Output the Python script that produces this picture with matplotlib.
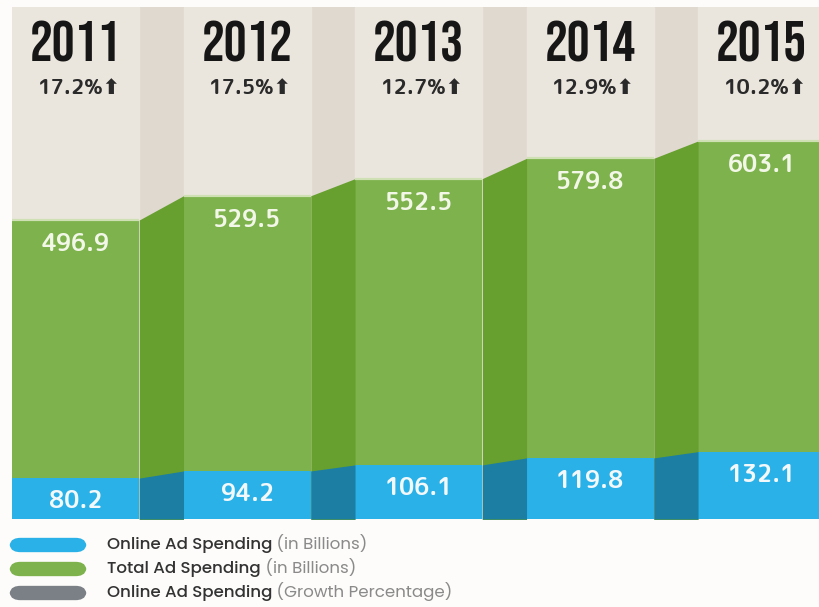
import numpy as np
import matplotlib
matplotlib.use("Agg")
import matplotlib.pyplot as plt
import matplotlib.patches as mpatches
import matplotlib.transforms as mtransforms

# ---- data ----
years = ["2011", "2012", "2013", "2014", "2015"]
growth_pct = ["17.2", "17.5", "12.7", "12.9", "10.2"]
total_spend = [496.9, 529.5, 552.5, 579.8, 603.1]
online_spend = [80.2, 94.2, 106.1, 119.8, 132.1]

legend_main = ["Online Ad Spending", "Total Ad Spending", "Online Ad Spending"]
legend_sub = ["(in Billions)", "(in Billions)", "(Growth Percentage)"]

# ---- styling ----
GREEN = "#7db24c"
GREEN_DARK = "#67a02e"
GREEN_EDGE = "#cfe1b4"
BLUE = "#2ab2e8"
BLUE_DARK = "#1b7ea2"
GRAY = "#7b8087"
BEIGE = "#eae5dd"
BEIGE_DARK = "#dfd9d0"
WHITE_BG = "#fdfcfa"

HEAD_FONT = ["Bebas Neue", "League Gothic", "DejaVu Sans"]
ROUND_FONT = ["Rounded Mplus 1c Bold", "DejaVu Sans"]
LEGEND_FONT = ["Poppins", "Questrial", "DejaVu Sans"]

fig = plt.figure(figsize=(8.2, 6.07), dpi=100, facecolor=WHITE_BG)

# plotting box in pixels (from top-left): x 12..820, y 7..519
left, right, top, bottom = 12, 820, 7, 519
rect = [left / 820, 1 - bottom / 607, (right - left) / 820, (bottom - top) / 607]

ax_g = fig.add_axes(rect, zorder=1)
ax_b = fig.add_axes(rect, zorder=2)
ax_b.patch.set_alpha(0)

n = len(years)
col_w = 0.742
xs = np.arange(n)
xlim = (0, 4.711)

# the green band and the blue band each have their own value axis
ax_g.set_xlim(*xlim)
ax_g.set_ylim(95, 95 + (bottom - top) / 0.744)
ax_b.set_xlim(*xlim)
ax_b.set_ylim(0, (bottom - top) / 0.51)
for a in (ax_g, ax_b):
    a.axis("off")

# background stripes
ax_g.axvspan(xlim[0], xlim[1], color=BEIGE_DARK, zorder=0)
for i in range(n):
    ax_g.axvspan(xs[i], xs[i] + col_w, color=BEIGE, zorder=0.5)

# total spending columns and sloped connectors
ax_g.bar(xs, total_spend, width=col_w, align="edge", color=GREEN, zorder=2)
for i in range(n - 1):
    ax_g.fill_between([xs[i] + col_w, xs[i + 1]], [total_spend[i], total_spend[i + 1]],
                      0, color=GREEN_DARK, linewidth=0, zorder=2)

# light rim along the top of each green column
for i in range(n):
    ax_g.plot([xs[i], xs[i] + col_w], [total_spend[i]] * 2, color=GREEN_EDGE,
              lw=1.6, zorder=3, solid_capstyle="butt")

# online spending columns and connectors
ax_b.bar(xs, online_spend, width=col_w, align="edge", color=BLUE, zorder=2)
for i in range(n - 1):
    ax_b.fill_between([xs[i] + col_w, xs[i + 1]], [online_spend[i], online_spend[i + 1]],
                      0, color=BLUE_DARK, linewidth=0, zorder=2)

# value labels
for i in range(n):
    cx = xs[i] + col_w / 2
    ax_g.annotate(f"{total_spend[i]:.1f}", xy=(cx, total_spend[i]), xytext=(0, -25),
                  textcoords="offset pixels", ha="center", va="center",
                  fontsize=17, fontweight="bold", family=ROUND_FONT,
                  color="#f3f7e8", zorder=5)
    ax_b.annotate(f"{online_spend[i]:.1f}", xy=(cx, online_spend[i]), xytext=(0, -24),
                  textcoords="offset pixels", ha="center", va="center",
                  fontsize=17, fontweight="bold", family=ROUND_FONT,
                  color="#f3f8fa", zorder=5)

# year headings and growth rates
trans = mtransforms.blended_transform_factory(ax_g.transData, ax_g.transAxes)
for i in range(n):
    cx = xs[i] + col_w / 2
    ax_g.text(cx, (bottom - 42) / (bottom - top), years[i], transform=trans,
              ha="center", va="center", fontsize=41, family=HEAD_FONT,
              color="#161616", zorder=5)
    ax_g.text(cx + 0.02, (bottom - 89) / (bottom - top), f"{growth_pct[i]}%\u2B06",
              transform=trans, ha="center", va="center", fontsize=15,
              fontweight="bold", family=ROUND_FONT, color="#2a2a2a", zorder=5)

# legend
legend_colors = [BLUE, GREEN, GRAY]
legend_y = [545, 569, 593]
for c, y, main, sub in zip(legend_colors, legend_y, legend_main, legend_sub):
    yf = 1 - y / 607
    pill = mpatches.FancyBboxPatch(
        (14 / 820, yf - 3 / 607), 68 / 820, 6 / 607,
        boxstyle="round,pad=0,rounding_size=0.008", transform=fig.transFigure,
        facecolor=c, edgecolor=c, linewidth=6, mutation_aspect=607 / 820)
    fig.patches.append(pill)
    t1 = fig.text(107 / 820, yf, main, ha="left", va="center", fontsize=12,
                  fontweight="medium", color="#333333", family=LEGEND_FONT)
    plt.annotate(" " + sub, xy=(1, 0), xycoords=t1, ha="left", va="bottom",
                 fontsize=12, fontweight="normal", color="#8a8a8a", family=LEGEND_FONT,
                 annotation_clip=False)

fig.savefig("out.png", dpi=100, facecolor=WHITE_BG)
